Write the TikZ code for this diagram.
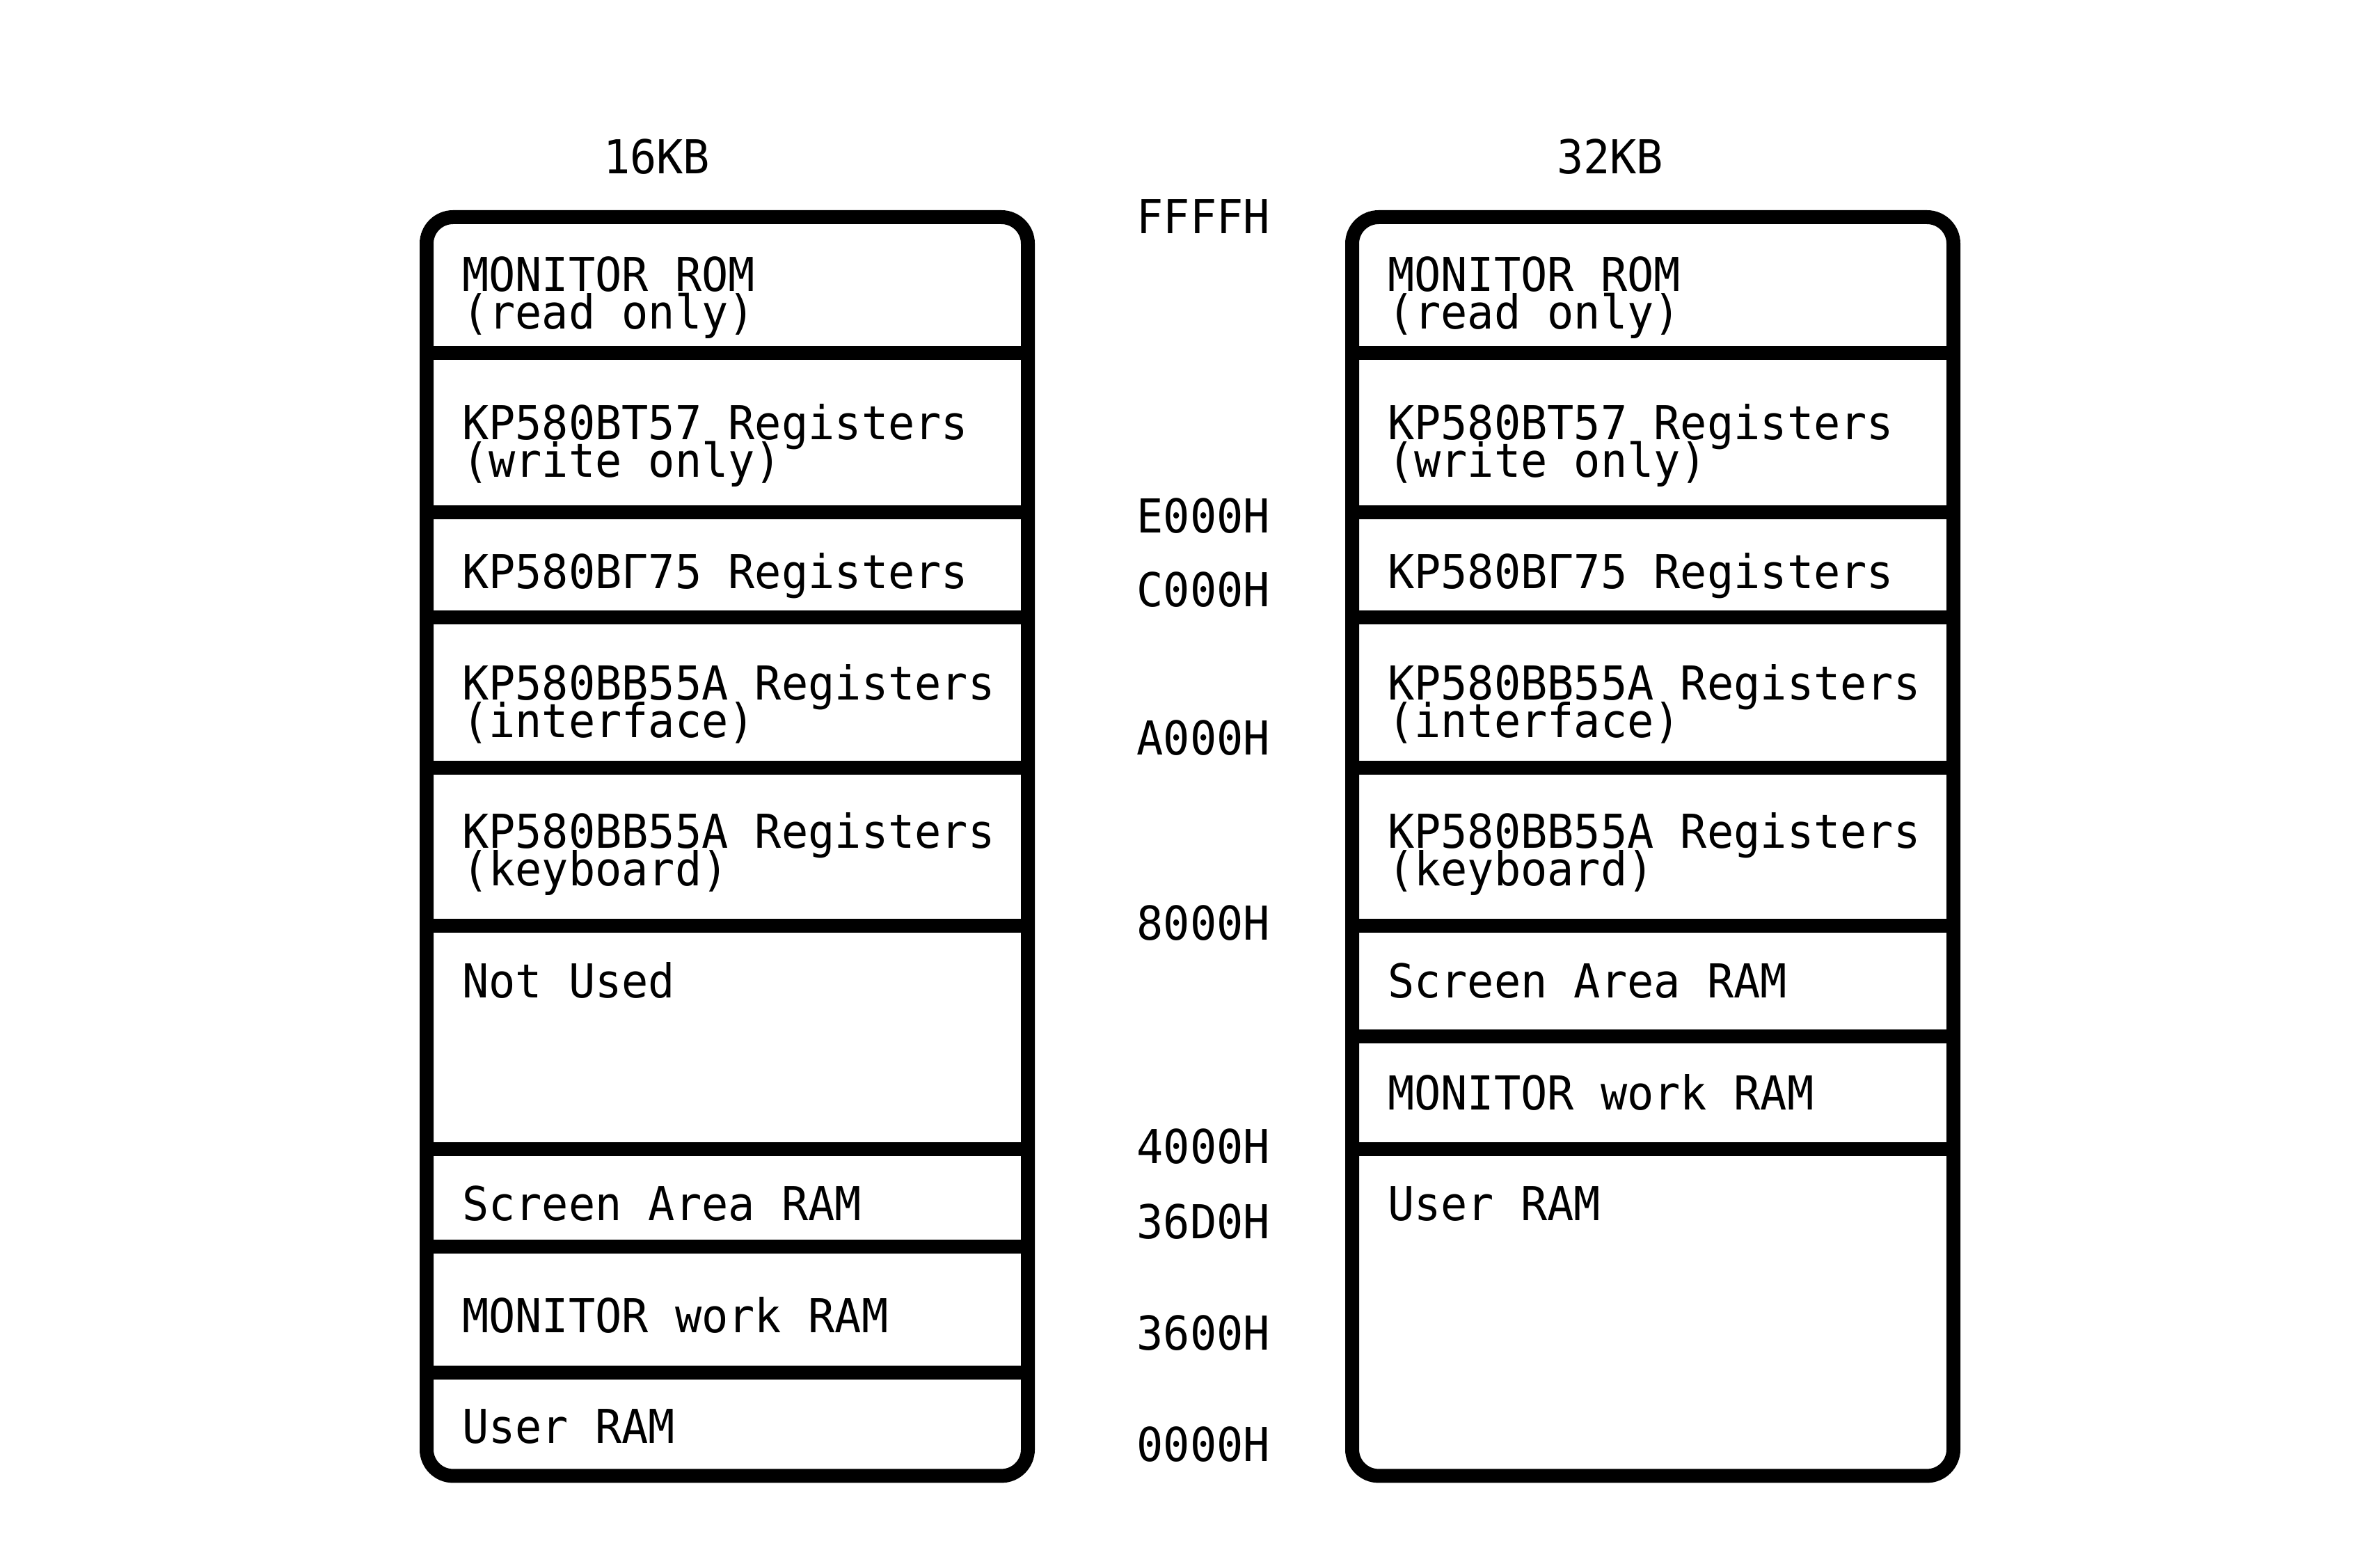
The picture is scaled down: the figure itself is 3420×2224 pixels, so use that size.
\documentclass[tikz,border=0pt]{standalone}
\usepackage{fontspec}
\newfontfamily\memfont[FakeStretch=0.947]{DejaVu Sans Mono}
\begin{document}
\begin{tikzpicture}[x=0.1mm,y=-0.1mm,
  frame/.style={line width=2mm, rounded corners=3.8mm},
  divider/.style={line width=2mm},
  txt/.style={font=\memfont\fontsize{19.1pt}{15.4pt}\selectfont, inner sep=0pt, outer sep=0pt},
  lbl/.style={txt, anchor=base west},
  addr/.style={txt, anchor=base east}]
\path[use as bounding box, fill=white] (0,0) rectangle (3420,2224);

% headers
\node[lbl] (h16) at (867,250) {16KB};
\node[lbl] (h32) at (2237,250) {32KB};

% left frame (16KB)
\draw[frame] (613,312) rectangle (1477,2120.4);
\foreach \yy in {506.7,735.7,886.6,1102.7,1329.5,1651.3,1791,1972}
  \draw[divider] (613,\yy) -- (1477,\yy);

% right frame (32KB)
\draw[frame] (1943,312) rectangle (2807,2120.4);
\foreach \yy in {506.7,735.7,886.6,1102.7,1329.5,1489,1651.3}
  \draw[divider] (1943,\yy) -- (2807,\yy);

% left texts
\node[lbl] (la1) at (664,418.3) {MONITOR ROM};
\node[lbl] (la2) at (664,472.3) {(read only)};
\node[lbl] (lb1) at (664,631.7) {KP580BT57 Registers};
\node[lbl] (lb2) at (664,685.7) {(write only)};
\node[lbl] (lc1) at (664,845) {KP580BГ75 Registers};
\node[lbl] (ld1) at (664,1005.8) {KP580BB55A Registers};
\node[lbl] (ld2) at (664,1059.8) {(interface)};
\node[lbl] (le1) at (664,1218.8) {KP580BB55A Registers};
\node[lbl] (le2) at (664,1272.8) {(keyboard)};
\node[lbl] (lf1) at (664,1433) {Not Used};
\node[lbl] (lg1) at (664,1753) {Screen Area RAM};
\node[lbl] (lh1) at (664,1914.7) {MONITOR work RAM};
\node[lbl] (li1) at (664,2073.8) {User RAM};

% right texts
\node[lbl] (ra1) at (1994,418.3) {MONITOR ROM};
\node[lbl] (ra2) at (1994,472.3) {(read only)};
\node[lbl] (rb1) at (1994,631.7) {KP580BT57 Registers};
\node[lbl] (rb2) at (1994,685.7) {(write only)};
\node[lbl] (rc1) at (1994,845) {KP580BГ75 Registers};
\node[lbl] (rd1) at (1994,1005.8) {KP580BB55A Registers};
\node[lbl] (rd2) at (1994,1059.8) {(interface)};
\node[lbl] (re1) at (1994,1218.8) {KP580BB55A Registers};
\node[lbl] (re2) at (1994,1272.8) {(keyboard)};
\node[lbl] (rf1) at (1994,1433) {Screen Area RAM};
\node[lbl] (rg1) at (1994,1594) {MONITOR work RAM};
\node[lbl] (rh1) at (1994,1753) {User RAM};

% addresses
\node[addr] (aFFFF) at (1825,336) {FFFFH};
\node[addr] (aE000) at (1825,765.2) {E000H};
\node[addr] (aC000) at (1825,871) {C000H};
\node[addr] (aA000) at (1825,1084.4) {A000H};
\node[addr] (a8000) at (1825,1350.9) {8000H};
\node[addr] (a4000) at (1825,1671.7) {4000H};
\node[addr] (a36D0) at (1825,1779.3) {36D0H};
\node[addr] (a3600) at (1825,1939) {3600H};
\node[addr] (a0000) at (1825,2099.8) {0000H};
\end{tikzpicture}
\end{document}
